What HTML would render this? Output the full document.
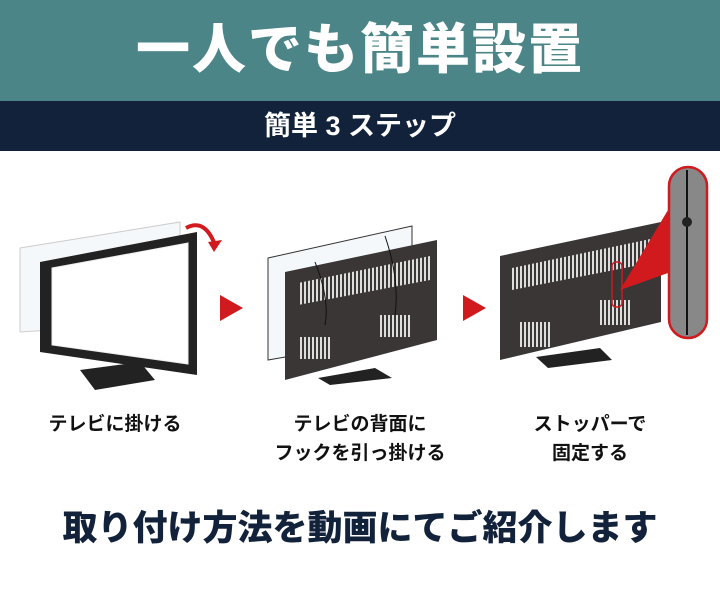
<!DOCTYPE html>
<html><head><meta charset="utf-8"><style>
body{margin:0;width:720px;height:600px;background:#fff;position:relative;overflow:hidden;font-family:"Liberation Sans","Noto Sans CJK JP",sans-serif}
.h1{position:absolute;left:0;top:0;width:720px;height:101px;background:#4b8587;color:#fff;font-size:54px;font-weight:900;text-align:center;line-height:101px;letter-spacing:2px}
.h2{position:absolute;left:0;top:101px;width:720px;height:50px;background:#13223b;color:#fff;font-size:27px;font-weight:700;text-align:center;line-height:50px}
.l{position:absolute;font-size:19px;font-weight:700;color:#111;text-align:center;line-height:29px}
.b{position:absolute;left:0;top:500px;width:720px;text-align:center;font-size:35px;font-weight:900;color:#13223b}
svg{position:absolute;left:0;top:0}
</style></head><body>
<div class="h1">一人でも簡単設置</div>
<div class="h2">簡単 3 ステップ</div>
<svg width="720" height="600" viewBox="0 0 720 600">
<defs><pattern id="v" width="4" height="10" patternUnits="userSpaceOnUse"><rect width="2" height="10" fill="#ddd"/></pattern></defs>
<polygon points="20,248 180,222 180,322 20,332" fill="#f4f8fa" stroke="#ccc"/>
<polygon points="40,262 197,232 197,375 40,352" fill="#222"/>
<polygon points="52,268 188,243 188,364 52,345" fill="#fff" stroke="#eee"/>
<polygon points="80,370 140,362 155,380 95,390" fill="#222"/>
<path d="M186,228 Q205,218 215,245" stroke="#d01a1e" stroke-width="4" fill="none"/>
<polygon points="208,242 222,240 214,252" fill="#d01a1e"/>
<polygon points="220,295 243,308 220,321" fill="#d01a1e"/>
<polygon points="268,258 412,226 412,335 268,360" fill="#f4f8fa" stroke="#333"/>
<polygon points="285,272 437,240 437,340 285,380" fill="#3a3636"/>
<polygon points="298,283 430,256 430,280 298,305" fill="url(#v)"/>
<rect x="300" y="337" width="30" height="22" fill="url(#v)"/>
<rect x="380" y="315" width="30" height="22" fill="url(#v)"/>
<path d="M315,262 Q330,300 325,325 M385,236 Q400,280 395,315" stroke="#111" fill="none"/>
<polygon points="318,378 375,368 392,378 330,385" fill="#222"/>
<polygon points="463,295 486,308 463,321" fill="#d01a1e"/>
<polygon points="500,256 661,222 661,322 500,360" fill="#3a3636"/>
<polygon points="512,268 655,238 655,262 512,290" fill="url(#v)"/>
<rect x="518" y="322" width="32" height="25" fill="url(#v)"/>
<rect x="600" y="300" width="32" height="25" fill="url(#v)"/>
<rect x="612" y="262" width="10" height="45" rx="4" fill="none" stroke="#d01a1e" stroke-width="1.5"/>
<polygon points="536,357 600,348 612,360 548,368" fill="#222"/>
<polygon points="620,290 668,210 668,273" fill="#d01a1e"/>
<rect x="669" y="167" width="38" height="171" rx="19" fill="#888" stroke="#d01a1e" stroke-width="2.5"/>
<line x1="687" y1="170" x2="687" y2="335" stroke="#111" stroke-width="2"/>
<circle cx="687" cy="222" r="5" fill="#222"/>
</svg>
<div class="l" style="left:20px;top:410px;width:190px">テレビに掛ける</div>
<div class="l" style="left:260px;top:410px;width:200px">テレビの背面に<br>フックを引っ掛ける</div>
<div class="l" style="left:500px;top:410px;width:180px">ストッパーで<br>固定する</div>
<div class="b">取り付け方法を動画にてご紹介します</div>
</body></html>
